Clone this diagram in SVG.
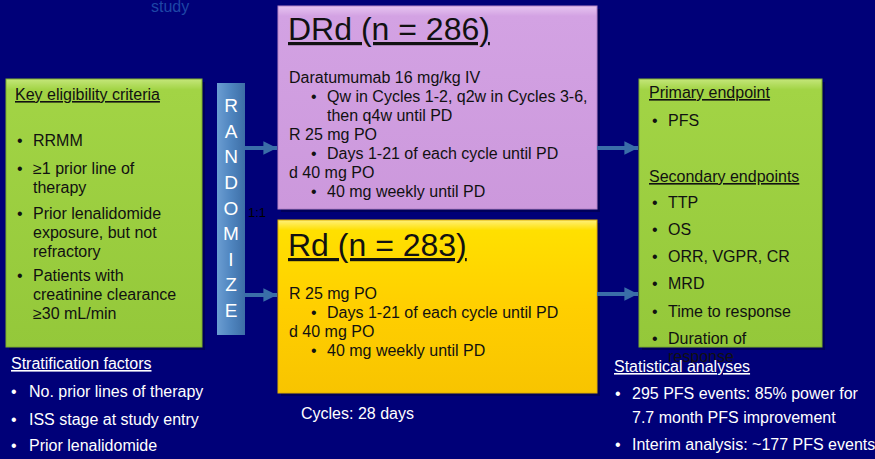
<svg xmlns="http://www.w3.org/2000/svg" width="875" height="459" viewBox="0 0 875 459">
  <defs>
    <linearGradient id="gGreen" x1="0" y1="0" x2="0" y2="1">
      <stop offset="0" stop-color="#c4e67a"/>
      <stop offset="0.04" stop-color="#a2d445"/>
      <stop offset="1" stop-color="#94c83a"/>
    </linearGradient>
    <linearGradient id="gPink" x1="0" y1="0" x2="0" y2="1">
      <stop offset="0" stop-color="#e6c4f0"/>
      <stop offset="0.05" stop-color="#d3a2e3"/>
      <stop offset="1" stop-color="#cc98dc"/>
    </linearGradient>
    <linearGradient id="gGold" x1="0" y1="0" x2="0" y2="1">
      <stop offset="0" stop-color="#fff07a"/>
      <stop offset="0.06" stop-color="#ffe000"/>
      <stop offset="0.5" stop-color="#ffcf00"/>
      <stop offset="1" stop-color="#f8c400"/>
    </linearGradient>
    <linearGradient id="gBar" x1="0" y1="0" x2="1" y2="0">
      <stop offset="0" stop-color="#6b9dd2"/>
      <stop offset="0.5" stop-color="#4f85bf"/>
      <stop offset="1" stop-color="#3d6ea6"/>
    </linearGradient>
    <marker id="head" viewBox="0 0 10 10" refX="10" refY="5" markerWidth="3.4" markerHeight="4" markerUnits="strokeWidth" orient="auto">
      <path d="M0,0 L10,5 L0,10 Z" fill="#3a6ea8"/>
    </marker>
    <style>
      text { font-family: "Liberation Sans", Arial, sans-serif; }
      .body { font-size: 16px; fill: #111; }
      .white { font-size: 16px; fill: #ffffff; }
      .title { font-size: 32px; fill: #111; text-decoration: underline; }
      .ul { text-decoration: underline; }
      .bar { font-size: 19px; fill: #ffffff; text-anchor: middle; }
      .box { stroke-width: 1; }
      .shadow { fill: #00005a; }
      .conn { stroke: #3a6ea8; stroke-width: 4; fill: none; marker-end: url(#head); }
    </style>
  </defs>

  <!-- background -->
  <rect x="0" y="0" width="875" height="459" fill="#000078"/>
  <text x="151" y="12" font-size="16" fill="#1e46a6">study</text>

  <!-- eligibility criteria -->
  <g id="eligibility">
    <rect class="shadow" x="9" y="82" width="196" height="268"/>
    <rect class="box" x="6" y="79" width="196" height="268" fill="url(#gGreen)" stroke="#7fae2c"/>
    <text class="body ul" x="15" y="100">Key eligibility criteria</text>
    <text class="body" x="17" y="146">•</text><text class="body" x="33" y="146">RRMM</text>
    <text class="body" x="17" y="174">•</text><text class="body" x="33" y="174">≥1 prior line of</text>
    <text class="body" x="33" y="193">therapy</text>
    <text class="body" x="17" y="219">•</text><text class="body" x="33" y="219">Prior lenalidomide</text>
    <text class="body" x="33" y="238">exposure, but not</text>
    <text class="body" x="33" y="257">refractory</text>
    <text class="body" x="17" y="281">•</text><text class="body" x="33" y="281">Patients with</text>
    <text class="body" x="33" y="300">creatinine clearance</text>
    <text class="body" x="33" y="319">≥30 mL/min</text>
  </g>

  <!-- stratification -->
  <g id="stratification">
    <text class="white ul" x="11" y="369">Stratification factors</text>
    <text class="white" x="11" y="397">•</text><text class="white" x="29" y="397">No. prior lines of therapy</text>
    <text class="white" x="11" y="425">•</text><text class="white" x="29" y="425">ISS stage at study entry</text>
    <text class="white" x="11" y="451">•</text><text class="white" x="29" y="451">Prior lenalidomide</text>
  </g>

  <!-- randomize bar -->
  <g id="randomize">
    <rect x="217" y="83" width="28" height="252" fill="url(#gBar)"/>
    <text class="bar" x="231" y="112">R</text>
    <text class="bar" x="231" y="138">A</text>
    <text class="bar" x="231" y="163">N</text>
    <text class="bar" x="231" y="189">D</text>
    <text class="bar" x="231" y="215">O</text>
    <text class="bar" x="231" y="240">M</text>
    <text class="bar" x="231" y="266">I</text>
    <text class="bar" x="231" y="291">Z</text>
    <text class="bar" x="231" y="317">E</text>
    <text x="248" y="217" font-size="13" fill="#000000">1:1</text>
  </g>

  <!-- DRd arm -->
  <g id="drd">
    <rect class="shadow" x="281" y="9" width="319" height="203"/>
    <rect class="box" x="278" y="6" width="319" height="203" fill="url(#gPink)" stroke="#b583c6"/>
    <text class="title" x="288" y="40">DRd (n = 286)</text>
    <text class="body" x="289" y="83">Daratumumab 16 mg/kg IV</text>
    <text class="body" x="311" y="102">•</text><text class="body" x="327" y="102">Qw in Cycles 1-2, q2w in Cycles 3-6,</text>
    <text class="body" x="327" y="121">then q4w until PD</text>
    <text class="body" x="289" y="140">R 25 mg PO</text>
    <text class="body" x="311" y="159">•</text><text class="body" x="327" y="159">Days 1-21 of each cycle until PD</text>
    <text class="body" x="289" y="178">d 40 mg PO</text>
    <text class="body" x="311" y="197">•</text><text class="body" x="327" y="197">40 mg weekly until PD</text>
  </g>

  <!-- Rd arm -->
  <g id="rd">
    <rect class="shadow" x="281" y="223" width="319" height="173"/>
    <rect class="box" x="278" y="220" width="319" height="173" fill="url(#gGold)" stroke="#e0b000"/>
    <text class="title" x="288" y="256">Rd (n = 283)</text>
    <text class="body" x="289" y="299">R 25 mg PO</text>
    <text class="body" x="311" y="318">•</text><text class="body" x="327" y="318">Days 1-21 of each cycle until PD</text>
    <text class="body" x="289" y="337">d 40 mg PO</text>
    <text class="body" x="311" y="356">•</text><text class="body" x="327" y="356">40 mg weekly until PD</text>
  </g>
  <text class="white" x="301" y="419" font-size="15">Cycles: 28 days</text>

  <!-- endpoints -->
  <g id="endpoints">
    <rect class="shadow" x="642" y="82" width="183" height="268"/>
    <rect class="box" x="639" y="79" width="183" height="268" fill="url(#gGreen)" stroke="#7fae2c"/>
    <text class="body ul" x="649" y="98">Primary endpoint</text>
    <text class="body" x="652" y="126">•</text><text class="body" x="668" y="126">PFS</text>
    <text class="body ul" x="649" y="182">Secondary endpoints</text>
    <text class="body" x="652" y="208">•</text><text class="body" x="668" y="208">TTP</text>
    <text class="body" x="652" y="235">•</text><text class="body" x="668" y="235">OS</text>
    <text class="body" x="652" y="262">•</text><text class="body" x="668" y="262">ORR, VGPR, CR</text>
    <text class="body" x="652" y="289">•</text><text class="body" x="668" y="289">MRD</text>
    <text class="body" x="652" y="317">•</text><text class="body" x="668" y="317">Time to response</text>
    <text class="body" x="652" y="344">•</text><text class="body" x="668" y="344">Duration of</text>
    <text class="body" x="668" y="362">response</text>
  </g>

  <!-- statistics -->
  <g id="statistics">
    <text class="white ul" x="614" y="372">Statistical analyses</text>
    <text class="white" x="615" y="399">•</text><text class="white" x="632" y="399">295 PFS events: 85% power for</text>
    <text class="white" x="632" y="423">7.7 month PFS improvement</text>
    <text class="white" x="615" y="450">•</text><text class="white" x="632" y="450">Interim analysis: ~177 PFS events</text>
  </g>

  <!-- connectors -->
  <g id="connectors">
    <line class="conn" x1="245" y1="148" x2="277" y2="148"/>
    <line class="conn" x1="245" y1="295" x2="277" y2="295"/>
    <line class="conn" x1="597" y1="148" x2="638" y2="148"/>
    <line class="conn" x1="597" y1="294" x2="638" y2="294"/>
  </g>
</svg>
